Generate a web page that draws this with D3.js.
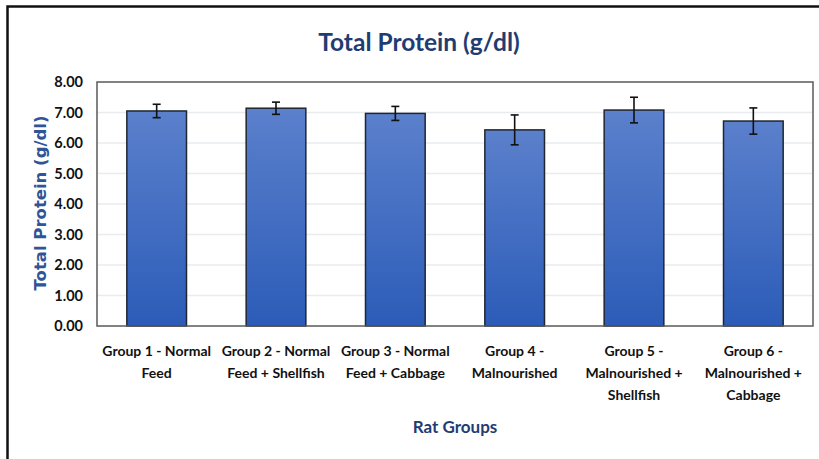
<!DOCTYPE html>
<html>
<head>
<meta charset="utf-8">
<script src="https://cdn.jsdelivr.net/npm/d3@7"></script>
<style>
  body { margin: 0; background: #fff; }
  text { font-family: "Lato", "Open Sans", sans-serif; }
</style>
</head>
<body>
<div id="chart"></div>
<script>
// chart data
const groups = [
    ["Group 1 - Normal", "Feed"],
    ["Group 2 - Normal", "Feed + Shellfish"],
    ["Group 3 - Normal", "Feed + Cabbage"],
    ["Group 4 -", "Malnourished"],
    ["Group 5 -", "Malnourished +", "Shellfish"],
    ["Group 6 -", "Malnourished +", "Cabbage"]
];
const means = [7.05, 7.14, 6.97, 6.43, 7.08, 6.72];
const errors = [0.22, 0.20, 0.23, 0.49, 0.42, 0.43];
const yTicks = [0, 1, 2, 3, 4, 5, 6, 7, 8];

const W = 819, H = 459;
const margin = { top: 82, right: 6, bottom: 133, left: 97 };
const width = W - margin.left - margin.right;
const height = H - margin.top - margin.bottom;

const root = d3.select("#chart").append("svg")
    .attr("width", W)
    .attr("height", H);

// outer frame (only top/left visible in picture)
root.append("path")
    .attr("d", "M7.5," + H + " V6.5 H" + W)
    .attr("fill", "none")
    .attr("stroke", "#111")
    .attr("stroke-width", 2.5);

const defs = root.append("defs");
const grad = defs.append("linearGradient")
    .attr("id", "barGrad")
    .attr("x1", 0).attr("y1", 0).attr("x2", 0).attr("y2", 1);
grad.append("stop").attr("offset", "0%").attr("stop-color", "#5b80cc");
grad.append("stop").attr("offset", "100%").attr("stop-color", "#2c5cb8");

const svg = root.append("g")
    .attr("transform", "translate(" + margin.left + "," + margin.top + ")");

const x = d3.scaleBand()
    .domain(groups.map((d, i) => i))
    .range([0, width])
    .paddingInner(0.5)
    .paddingOuter(0.25);

const y = d3.scaleLinear()
    .domain([0, 8])
    .range([height, 0]);

// gridlines
svg.selectAll(".grid")
    .data(yTicks.slice(1, -1))
    .enter().append("line")
    .attr("x1", 0).attr("x2", width)
    .attr("y1", d => y(d)).attr("y2", d => y(d))
    .attr("stroke", "#e9ecef")
    .attr("stroke-width", 1.5);

// bars
svg.selectAll(".bar")
    .data(means)
    .enter().append("rect")
    .attr("x", (d, i) => x(i))
    .attr("y", d => y(d))
    .attr("width", x.bandwidth())
    .attr("height", d => height - y(d))
    .attr("fill", "url(#barGrad)")
    .attr("stroke", "#1f2630")
    .attr("stroke-width", 1.5);

// error bars
const err = svg.selectAll(".err")
    .data(means)
    .enter().append("g")
    .attr("transform", (d, i) => "translate(" + (x(i) + x.bandwidth() / 2) + ",0)")
    .attr("stroke", "#111")
    .attr("stroke-width", 1.6);
err.append("line")
    .attr("y1", (d, i) => y(d + errors[i]))
    .attr("y2", (d, i) => y(d - errors[i]));
err.append("line")
    .attr("x1", -4).attr("x2", 4)
    .attr("y1", (d, i) => y(d + errors[i]))
    .attr("y2", (d, i) => y(d + errors[i]));
err.append("line")
    .attr("x1", -4).attr("x2", 4)
    .attr("y1", (d, i) => y(d - errors[i]))
    .attr("y2", (d, i) => y(d - errors[i]));

// plot frame
svg.append("rect")
    .attr("width", width)
    .attr("height", height)
    .attr("fill", "none")
    .attr("stroke", "#5a5a5a")
    .attr("stroke-width", 1.5);

// y axis
const yAxis = svg.append("g")
    .call(d3.axisLeft(y).tickValues(yTicks).tickFormat(d3.format(".2f")).tickSize(0).tickPadding(14));
yAxis.select(".domain").remove();
yAxis.selectAll("text")
    .style("font-family", "Lato, sans-serif")
    .attr("font-size", 14.5)
    .attr("font-weight", "bold")
    .attr("fill", "#111");

// x axis labels
const xAxis = svg.append("g")
    .attr("transform", "translate(0," + height + ")")
    .call(d3.axisBottom(x).tickSize(0).tickFormat(""));
xAxis.select(".domain").remove();
xAxis.selectAll(".tick").each(function(i) {
    const t = d3.select(this).append("text")
        .attr("text-anchor", "middle")
        .attr("font-size", 14)
        .attr("font-weight", "bold")
        .attr("fill", "#111");
    groups[i].forEach((line, k) => {
        t.append("tspan")
            .attr("x", 0)
            .attr("y", 30 + k * 22)
            .text(line);
    });
});

// titles
root.append("text")
    .attr("x", 419)
    .attr("y", 51)
    .attr("text-anchor", "middle")
    .attr("font-size", 24.5)
    .attr("font-weight", "bold")
    .attr("fill", "#1f3c73")
    .text("Total Protein (g/dl)");

root.append("text")
    .attr("x", margin.left + width / 2)
    .attr("y", 433)
    .attr("text-anchor", "middle")
    .attr("font-size", 17)
    .attr("font-weight", "bold")
    .attr("fill", "#1f3c73")
    .text("Rat Groups");

root.append("text")
    .attr("transform", "translate(46,203) rotate(-90)")
    .attr("text-anchor", "middle")
    .style("font-family", "'DejaVu Sans', sans-serif")
    .attr("font-size", 16.5)
    .attr("font-weight", "bold")
    .attr("fill", "#2f5597")
    .text("Total Protein (g/dl)");
</script>
</body>
</html>
